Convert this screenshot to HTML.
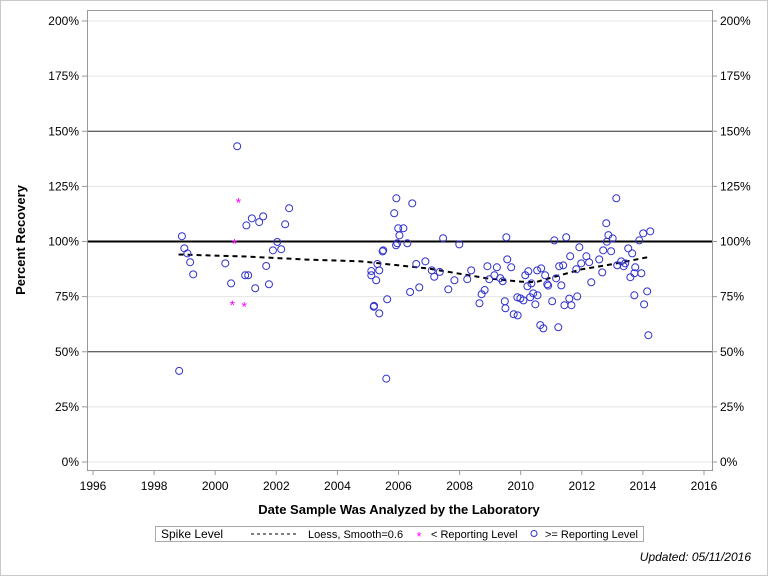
<!DOCTYPE html>
<html><head><meta charset="utf-8"><style>
html,body{margin:0;padding:0;background:#fff;}
#wrap{position:relative;width:766px;height:574px;border:1px solid #c8c8c8;overflow:hidden;}
svg text{font-family:"Liberation Sans",sans-serif;}
</style></head><body>
<div id="wrap">
<svg id="chart" width="768" height="576"></svg>
</div>
<script>
const yTicks=[0,25,50,75,100,125,150,175,200];
const xTicks=[1996,1998,2000,2002,2004,2006,2008,2010,2012,2014,2016];
const refLines=[50,100,150];
const starYears=[2000.76,2000.63,2000.56,2000.95];
const starVals=[117.8,99.2,71.1,70.6];
const circYears=[2000.72,2002.42,2002.29,2001.57,2001.44,2001.20,2001.02,1998.91,2002.03,2001.89,2002.16,1998.99,1999.09,1999.18,2000.33,1999.28,2001.67,2000.98,2001.08,2000.52,2001.76,2001.31,1998.82,
2005.93,2006.45,2005.86,2005.99,2006.16,2006.03,2005.92,2005.96,2006.29,2007.46,2007.99,2009.53,2005.50,2005.48,2005.31,2005.11,2005.11,2005.37,2005.27,2006.58,2006.88,2007.09,2007.17,2007.35,2007.83,2008.25,2008.38,2008.91,2009.22,2008.97,2009.14,2009.33,2009.41,2009.56,2006.38,2006.68,2007.63,2005.63,2008.82,2008.72,2008.65,2009.48,2009.50,2005.19,2005.20,2005.37,2005.60,
2013.13,2012.80,2012.87,2013.01,2012.82,2014.01,2014.24,2013.88,2011.10,2011.49,2011.92,2013.52,2013.65,2012.70,2012.96,2011.62,2012.15,2011.98,2012.24,2012.57,2009.69,2011.26,2011.39,2011.82,2010.67,2010.54,2010.25,2010.15,2010.80,2011.16,2010.35,2010.22,2010.87,2010.90,2011.33,2012.31,2012.67,2013.29,2013.42,2013.37,2013.16,2013.75,2013.72,2013.59,2013.95,2009.89,2009.99,2010.09,2010.31,2010.41,2010.55,2010.48,2011.03,2011.59,2011.85,2011.43,2011.66,2013.72,2014.14,2014.04,2009.77,2009.90,2010.64,2010.74,2011.23,2014.18];
const circVals=[143.2,115.1,107.8,111.4,108.8,110.5,107.3,102.4,99.8,96.0,96.5,96.9,94.6,90.6,90.1,85.1,88.9,84.7,84.7,81.0,80.6,78.8,41.3,
119.6,117.3,112.8,106.0,106.0,102.8,98.3,99.2,99.2,101.5,98.7,101.9,96.0,95.5,89.8,86.6,84.7,86.9,82.4,89.8,91.0,86.9,84.0,86.2,82.4,82.9,86.9,88.8,88.3,82.9,84.7,83.4,82.0,91.9,77.1,79.2,78.3,73.8,78.0,76.1,72.0,72.9,69.7,70.4,70.8,67.4,37.8,
119.6,108.3,102.9,101.4,99.9,103.7,104.6,100.5,100.5,101.9,97.4,96.9,94.6,96.0,95.6,93.3,93.3,90.1,90.6,91.9,88.3,88.8,89.2,87.4,87.8,86.9,86.5,84.7,84.7,83.3,81.0,79.7,80.6,80.0,80.1,81.5,86.0,91.0,90.1,88.8,89.2,88.3,85.6,83.8,85.6,74.7,74.2,73.3,74.7,76.5,75.6,71.5,72.9,74.1,75.1,71.1,71.1,75.6,77.4,71.5,67.0,66.5,62.1,60.6,61.1,57.5];
const loessYears=[1998.8,2001,2003,2004.77,2007,2008.9,2010,2010.5,2011,2012,2013,2014.2];
const loessVals=[94.1,93.2,91.8,91.0,87.7,83.3,81.8,81.6,83.6,87.4,89.7,93.0];

const NS="http://www.w3.org/2000/svg";
const svg=document.getElementById('chart');
const L=86,R=711,T=9,B=469;
const X=y=>92+(y-1996)*30.55;
const Y=v=>461-v*2.205;
function mk(tag,attrs,parent){const e=document.createElementNS(NS,tag);for(const k in attrs)e.setAttribute(k,attrs[k]);(parent||svg).appendChild(e);return e;}

// gridlines
yTicks.forEach(v=>{
  const g=mk('line',{x1:L,x2:R,y1:Y(v),y2:Y(v),stroke:'#e4e4e4','stroke-width':1});
  
  
});
refLines.forEach(v=>{
  const g=mk('line',{x1:L,x2:R,y1:Y(v),y2:Y(v),stroke:v===100?'#000':'#333','stroke-width':v===100?2:1});
  
  
});
// frame
const fr=mk('rect',{x:L+0.5,y:T+0.5,width:R-L,height:B-T,fill:'none',stroke:'#999'});


// y ticks
yTicks.forEach(v=>{
  mk('line',{x1:L-5,x2:L,y1:Y(v),y2:Y(v),stroke:'#999'});
  mk('line',{x1:R,x2:R+5,y1:Y(v),y2:Y(v),stroke:'#999'});
  const t=mk('text',{x:L-8,y:Y(v)+4,'text-anchor':'end','font-size':12,fill:'#000'});t.textContent=v+'%';
  
  
  const t2=mk('text',{x:R+8,y:Y(v)+4,'font-size':12,fill:'#000'});t2.textContent=v+'%';
  
  
});
xTicks.forEach(y=>{
  mk('line',{x1:X(y),x2:X(y),y1:B,y2:B+5,stroke:'#999'});
  const t=mk('text',{x:X(y),y:B+20,'text-anchor':'middle','font-size':12,fill:'#000'});t.textContent=y;
  
  
});
// loess
const lp=mk('polyline',{points:loessYears.map((y,i)=>X(y)+','+Y(loessVals[i])).join(' '),fill:'none',stroke:'#000','stroke-width':2,'stroke-dasharray':'5,4'});


// circles
circYears.forEach((y,i)=>{
  const c=mk('circle',{cx:X(y),cy:Y(circVals[i]),r:3.5,fill:'none',stroke:'#3333cc','stroke-width':1});
  
  
});
// stars
starYears.forEach((y,i)=>{
  const cx=X(y),cy=Y(starVals[i]);
  const t=mk('text',{x:cx,y:cy+5,'text-anchor':'middle','font-size':14,fill:'#ff00ff'});t.textContent='*';
  
  
});
// titles
const yt=mk('text',{x:24,y:(T+B)/2,'text-anchor':'middle','font-size':13,'font-weight':'bold',transform:'rotate(-90 24 '+((T+B)/2)+')'});yt.textContent='Percent Recovery';


const xt=mk('text',{x:398,y:513,'text-anchor':'middle','font-size':13,'font-weight':'bold'});xt.textContent='Date Sample Was Analyzed by the Laboratory';


// legend
const lg=mk('g',{});


mk('rect',{x:154.5,y:525.5,width:488,height:15,fill:'#fff',stroke:'#aaa'},lg);
const lt=mk('text',{x:160,y:537,'font-size':12},lg);lt.textContent='Spike Level';
mk('line',{x1:250,x2:298,y1:533,y2:533,stroke:'#000','stroke-dasharray':'3,3'},lg);
const l1=mk('text',{x:307,y:537,'font-size':11},lg);l1.textContent='Loess, Smooth=0.6';
const l2s=mk('text',{x:418,y:540,'text-anchor':'middle','font-size':13,fill:'#ff00ff'},lg);l2s.textContent='*';
const l2=mk('text',{x:430,y:537,'font-size':11},lg);l2.textContent='< Reporting Level';
mk('circle',{cx:533,cy:532.5,r:3,fill:'none',stroke:'#3333cc'},lg);
const l3=mk('text',{x:544,y:537,'font-size':11},lg);l3.textContent='>= Reporting Level';
const up=mk('text',{x:750,y:560,'text-anchor':'end','font-size':12,'font-style':'italic'});up.textContent='Updated: 05/11/2016';


</script>
</body></html>
